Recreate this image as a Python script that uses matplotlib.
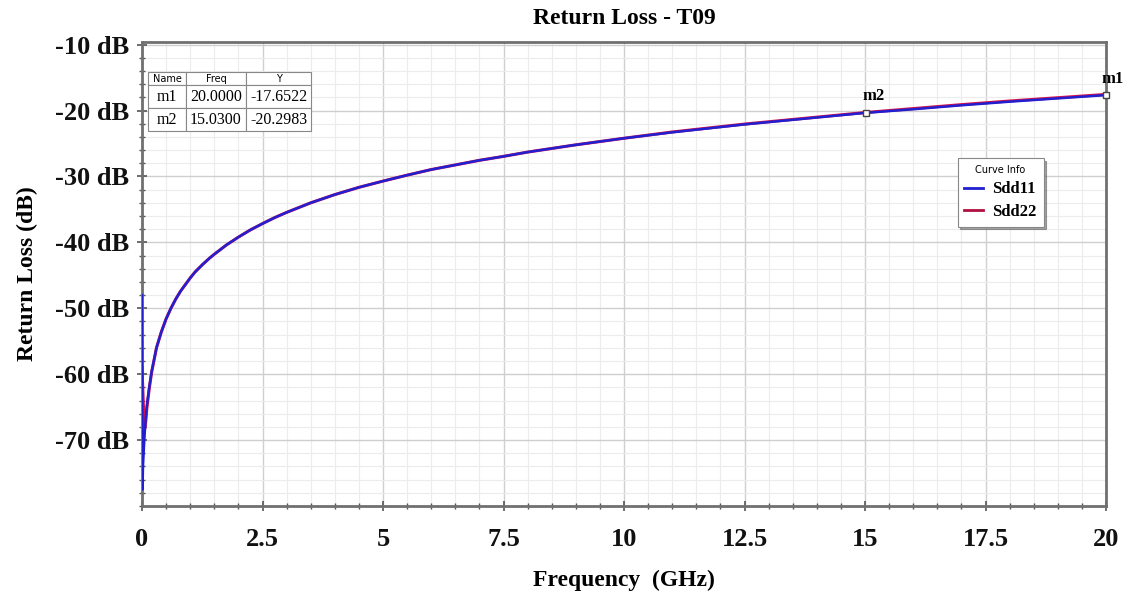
import matplotlib
matplotlib.use("Agg")
import matplotlib.pyplot as plt
from matplotlib.ticker import MultipleLocator, FixedLocator
from matplotlib.lines import Line2D

# ---- data ----
freq = [0.0, 0.01, 0.02, 0.04, 0.06, 0.08, 0.1, 0.15, 0.2, 0.3, 0.4, 0.5, 0.6,
        0.7, 0.8, 0.9, 1.0, 1.1, 1.25, 1.4, 1.5, 1.75, 2.0, 2.25, 2.5, 2.75,
        3.0, 3.5, 4.0, 4.5, 5.0, 5.5, 6.0, 7.0, 7.5, 8.0, 9.0, 10.0, 11.0,
        12.0, 12.5, 13.0, 14.0, 15.0, 16.0, 17.0, 18.0, 19.0, 20.0]
sdd11 = [-48.0, -77.5, -74.0, -71.0, -68.5, -66.5, -64.8, -62.0, -59.6, -56.0,
         -53.6, -51.6, -50.0, -48.6, -47.4, -46.4, -45.4, -44.5, -43.4, -42.4,
         -41.8, -40.4, -39.2, -38.1, -37.15, -36.25, -35.45, -34.0, -32.75,
         -31.65, -30.7, -29.8, -28.95, -27.55, -26.95, -26.3, -25.2, -24.2,
         -23.3, -22.5, -22.1, -21.75, -21.05, -20.35, -19.8, -19.2, -18.65,
         -18.15, -17.65]
sdd22 = [-59.0, -61.0, -63.0, -67.0, -68.2, -67.0, -65.2, -62.2, -59.7, -56.0,
         -53.6, -51.6, -50.0, -48.6, -47.4, -46.4, -45.4, -44.5, -43.4, -42.4,
         -41.8, -40.4, -39.2, -38.1, -37.15, -36.25, -35.45, -34.0, -32.75,
         -31.65, -30.7, -29.8, -28.95, -27.55, -26.95, -26.3, -25.2, -24.2,
         -23.25, -22.45, -22.05, -21.7, -21.0, -20.3, -19.7, -19.1, -18.55,
         -18.05, -17.55]
series_names = ["Sdd11", "Sdd22"]
marker_names = ["m1", "m2"]
marker_freq = [20.0, 15.03]
marker_val = [-17.6522, -20.2983]
xticks = [0, 2.5, 5, 7.5, 10, 12.5, 15, 17.5, 20]
xtick_labels = ["0", "2.5", "5", "7.5", "10", "12.5", "15", "17.5", "20"]
yticks = [-70, -60, -50, -40, -30, -20, -10]
ytick_labels = ["-70 dB", "-60 dB", "-50 dB", "-40 dB", "-30 dB", "-20 dB", "-10 dB"]

serif = ["Liberation Serif", "DejaVu Serif"]
blue = "#2020d0"
red = "#d8104a"

fig = plt.figure(figsize=(11.28, 5.92), dpi=100)
ax = fig.add_axes([0.1259, 0.1453, 0.9805 - 0.1259, 0.929 - 0.1453])

ax.plot(freq, sdd22, color=red, lw=2.2, zorder=3)
ax.plot(freq, sdd11, color=blue, lw=1.8, zorder=4)

ax.set_xlim(0, 20)
ax.set_ylim(-80, -9.6)

ax.xaxis.set_major_locator(FixedLocator(xticks))
ax.set_xticklabels(xtick_labels)
ax.xaxis.set_minor_locator(MultipleLocator(0.5))
ax.yaxis.set_major_locator(FixedLocator(yticks))
ax.set_yticklabels(ytick_labels)
ax.yaxis.set_minor_locator(MultipleLocator(2))

ax.grid(which="major", color="#cfcfcf", lw=1.0, zorder=0)
ax.grid(which="minor", color="#ececec", lw=0.8, zorder=0)
ax.set_axisbelow(True)

for lab in ax.get_xticklabels() + ax.get_yticklabels():
    lab.set_fontfamily(serif)
    lab.set_fontweight("bold")
    lab.set_fontsize(19)
    lab.set_color("#111111")
ax.tick_params(axis="both", which="major", direction="inout", length=7,
               width=1.2, color="#555555", pad=6)
ax.tick_params(axis="both", which="minor", direction="inout", length=5,
               width=1.0, color="#555555")
ax.tick_params(axis="x", which="major", pad=12)

for s in ax.spines.values():
    s.set_color("#707070")
    s.set_linewidth(2.0)

ax.set_title("Return Loss - T09", fontfamily=serif, fontweight="bold",
             fontsize=17, pad=13)
ax.set_xlabel("Frequency  (GHz)", fontfamily=serif, fontweight="bold",
              fontsize=17, labelpad=14)
ax.set_ylabel("Return Loss (dB)", fontfamily=serif, fontweight="bold",
              fontsize=17, labelpad=12)

# markers
for name, f, v in zip(marker_names, marker_freq, marker_val):
    ax.plot([f], [v], marker="s", ms=4, mfc="white", mec="#444444", mew=1.0,
            zorder=6, clip_on=False)
    ax.annotate(name, (f, v), xytext=(-3, 6), textcoords="offset points",
                ha="left", va="bottom", fontfamily=serif,
                fontweight="bold", fontsize=12, zorder=7,
                annotation_clip=False)

# marker table
cell_text = [[marker_names[i], f"{marker_freq[i]:.4f}", f"{marker_val[i]:.4f}"]
             for i in range(len(marker_names))]
tbl = ax.table(cellText=cell_text, colLabels=["Name", "Freq", "Y"],
               bbox=[0.0065, 0.808, 0.169, 0.128], cellLoc="center",
               colWidths=[0.23, 0.37, 0.40], zorder=8)
tbl.auto_set_font_size(False)
for (r, c), cell in tbl.get_celld().items():
    cell.set_edgecolor("#888888")
    cell.set_linewidth(0.8)
    cell.set_facecolor("white")
    if r == 0:
        cell.get_text().set_fontsize(7)
        cell.get_text().set_fontfamily(["DejaVu Sans"])
        cell.set_height(0.6)
    else:
        cell.get_text().set_fontsize(11.5)
        cell.get_text().set_fontfamily(serif)
        cell.set_height(1.0)

# legend
handles = [Line2D([], [], color=blue, lw=2),
           Line2D([], [], color="#b01040", lw=2)]
leg = ax.legend(handles, series_names, title="Curve Info",
                loc="upper left", bbox_to_anchor=(0.846, 0.75),
                borderaxespad=0,
                prop={"family": serif, "weight": "bold", "size": 12},
                title_fontproperties={"family": "DejaVu Sans", "size": 7},
                fancybox=False, shadow=True, framealpha=1,
                edgecolor="#888888", handlelength=1.1, borderpad=0.4,
                labelspacing=0.4, handletextpad=0.6)
leg.get_frame().set_linewidth(0.8)
leg.set_zorder(9)

fig.savefig("out.png", dpi=100, facecolor="white")
